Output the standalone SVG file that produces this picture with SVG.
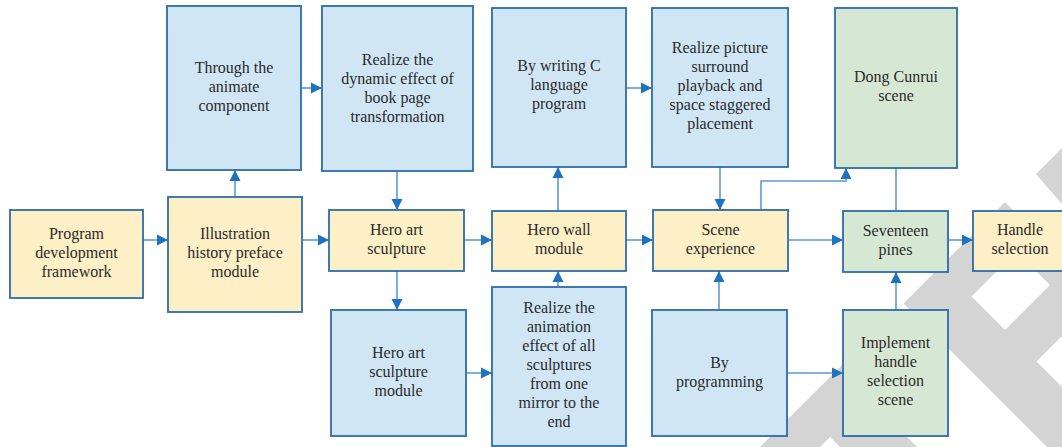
<svg xmlns="http://www.w3.org/2000/svg" width="1062" height="447" viewBox="0 0 1062 447">
  <style>
    .box { stroke: #2d6ca8; stroke-width: 1.8; }
    .blue { fill: #d0e6f5; }
    .yellow { fill: #fdefc6; }
    .green { fill: #d6e8d4; }
    .lbl { font-size: 16px; fill: #2b2b2b; text-anchor: middle; }
    .wm { fill: #d4d4d4; }
    .wm-cut { fill: #ffffff; }
    .conn { fill: none; stroke: #5e9ad3; stroke-width: 1.6; }
  </style>
  <defs>
    <marker id="arrow" viewBox="0 0 10 10" refX="10" refY="5" markerWidth="11" markerHeight="12" markerUnits="userSpaceOnUse" orient="auto">
      <path d="M0,0 L10,5 L0,10 z" fill="#1f72bf"/>
    </marker>
  </defs>

  <rect width="1062" height="447" fill="#ffffff"/>

  <!-- background watermark -->
  <g id="watermark">
    <polygon class="wm" points="1036,174 1062,148 1062,204"/>
    <polygon class="wm" points="760,447 1005,202 1062,259 1062,447"/>
    <polygon class="wm-cut" points="1016.5,251.5 1050,285 1005,330 971.5,296.5"/>
    <polygon class="wm-cut" points="1036.5,361.5 1062,336 1062,387"/>
    <polygon class="wm-cut" points="903.5,303.5 1047,447 917,447 845,375"/>
    <polygon class="wm-cut" points="830,437 840,447 820,447"/>
  </g>

  <!-- connectors -->
  <g id="connectors" class="conn" marker-end="url(#arrow)">
    <line x1="143" y1="240" x2="168" y2="240"/>
    <line x1="235" y1="197" x2="235" y2="170"/>
    <line x1="301" y1="88" x2="322" y2="88"/>
    <line x1="302" y1="240" x2="329" y2="240"/>
    <line x1="397" y1="171" x2="397" y2="210"/>
    <line x1="464" y1="240" x2="492" y2="240"/>
    <line x1="397" y1="271" x2="397" y2="310"/>
    <line x1="466" y1="373" x2="492" y2="373"/>
    <line x1="558" y1="287" x2="558" y2="271"/>
    <line x1="558" y1="211" x2="558" y2="167"/>
    <line x1="626" y1="88" x2="652" y2="88"/>
    <line x1="720" y1="167" x2="720" y2="210"/>
    <line x1="626" y1="240" x2="653" y2="240"/>
    <line x1="719" y1="310" x2="719" y2="271"/>
    <polyline points="761,210 761,181 846,181 846,168"/>
    <line x1="788" y1="240" x2="843" y2="240"/>
    <line x1="896" y1="211" x2="896" y2="168" marker-end="none"/>
    <line x1="948" y1="240" x2="973" y2="240"/>
    <line x1="787" y1="373" x2="843" y2="373"/>
    <line x1="896" y1="310" x2="896" y2="272"/>
  </g>

  <!-- nodes -->
  <g id="nodes" font-family="Liberation Serif, Times New Roman, serif">
  <g id="program-framework">
    <rect class="box yellow" x="10" y="210" width="133" height="88"/>
    <text class="lbl"><tspan x="76.5" y="239">Program</tspan><tspan x="76.5" y="258">development</tspan><tspan x="76.5" y="277">framework</tspan></text>
  </g>
  <g id="illustration-module">
    <rect class="box yellow" x="168" y="197" width="134" height="115"/>
    <text class="lbl"><tspan x="235" y="239">Illustration</tspan><tspan x="235" y="258">history preface</tspan><tspan x="235" y="277">module</tspan></text>
  </g>
  <g id="animate-component">
    <rect class="box blue" x="167" y="6" width="134" height="164"/>
    <text class="lbl"><tspan x="234" y="73">Through the</tspan><tspan x="234" y="92">animate</tspan><tspan x="234" y="111">component</tspan></text>
  </g>
  <g id="page-transformation">
    <rect class="box blue" x="322" y="6" width="151" height="165"/>
    <text class="lbl"><tspan x="397.5" y="64.5">Realize the</tspan><tspan x="397.5" y="83.5">dynamic effect of</tspan><tspan x="397.5" y="102.5">book page</tspan><tspan x="397.5" y="121.5">transformation</tspan></text>
  </g>
  <g id="c-program">
    <rect class="box blue" x="492" y="8" width="134" height="159"/>
    <text class="lbl"><tspan x="559" y="71">By writing C</tspan><tspan x="559" y="90">language</tspan><tspan x="559" y="109">program</tspan></text>
  </g>
  <g id="picture-surround">
    <rect class="box blue" x="652" y="8" width="136" height="159"/>
    <text class="lbl"><tspan x="720" y="52.5">Realize picture</tspan><tspan x="720" y="71.5">surround</tspan><tspan x="720" y="90.5">playback and</tspan><tspan x="720" y="109.5">space staggered</tspan><tspan x="720" y="128.5">placement</tspan></text>
  </g>
  <g id="dong-cunrui">
    <rect class="box green" x="835" y="8" width="122" height="160"/>
    <text class="lbl"><tspan x="896" y="82">Dong Cunrui</tspan><tspan x="896" y="101">scene</tspan></text>
  </g>
  <g id="hero-art-sculpture">
    <rect class="box yellow" x="329" y="210" width="135" height="61"/>
    <text class="lbl"><tspan x="396.5" y="235">Hero art</tspan><tspan x="396.5" y="254">sculpture</tspan></text>
  </g>
  <g id="hero-wall">
    <rect class="box yellow" x="492" y="211" width="134" height="60"/>
    <text class="lbl"><tspan x="559" y="235">Hero wall</tspan><tspan x="559" y="254">module</tspan></text>
  </g>
  <g id="scene-experience">
    <rect class="box yellow" x="653" y="210" width="135" height="61"/>
    <text class="lbl"><tspan x="720.5" y="235">Scene</tspan><tspan x="720.5" y="254">experience</tspan></text>
  </g>
  <g id="seventeen-pines">
    <rect class="box green" x="843" y="211" width="105" height="61"/>
    <text class="lbl"><tspan x="895.5" y="236">Seventeen</tspan><tspan x="895.5" y="255">pines</tspan></text>
  </g>
  <g id="handle-selection">
    <rect class="box yellow" x="973" y="211" width="94" height="60"/>
    <text class="lbl"><tspan x="1020" y="235">Handle</tspan><tspan x="1020" y="254">selection</tspan></text>
  </g>
  <g id="sculpture-module">
    <rect class="box blue" x="331" y="310" width="135" height="126"/>
    <text class="lbl"><tspan x="398.5" y="358">Hero art</tspan><tspan x="398.5" y="377">sculpture</tspan><tspan x="398.5" y="396">module</tspan></text>
  </g>
  <g id="mirror-animation">
    <rect class="box blue" x="492" y="287" width="134" height="159"/>
    <text class="lbl"><tspan x="559" y="313">Realize the</tspan><tspan x="559" y="332">animation</tspan><tspan x="559" y="351">effect of all</tspan><tspan x="559" y="370">sculptures</tspan><tspan x="559" y="389">from one</tspan><tspan x="559" y="408">mirror to the</tspan><tspan x="559" y="427">end</tspan></text>
  </g>
  <g id="by-programming">
    <rect class="box blue" x="652" y="310" width="135" height="126"/>
    <text class="lbl"><tspan x="719.5" y="367.5">By</tspan><tspan x="719.5" y="387">programming</tspan></text>
  </g>
  <g id="handle-scene">
    <rect class="box green" x="843" y="310" width="105" height="126"/>
    <text class="lbl"><tspan x="895.5" y="348">Implement</tspan><tspan x="895.5" y="367">handle</tspan><tspan x="895.5" y="386">selection</tspan><tspan x="895.5" y="405">scene</tspan></text>
  </g>
  </g>
</svg>
